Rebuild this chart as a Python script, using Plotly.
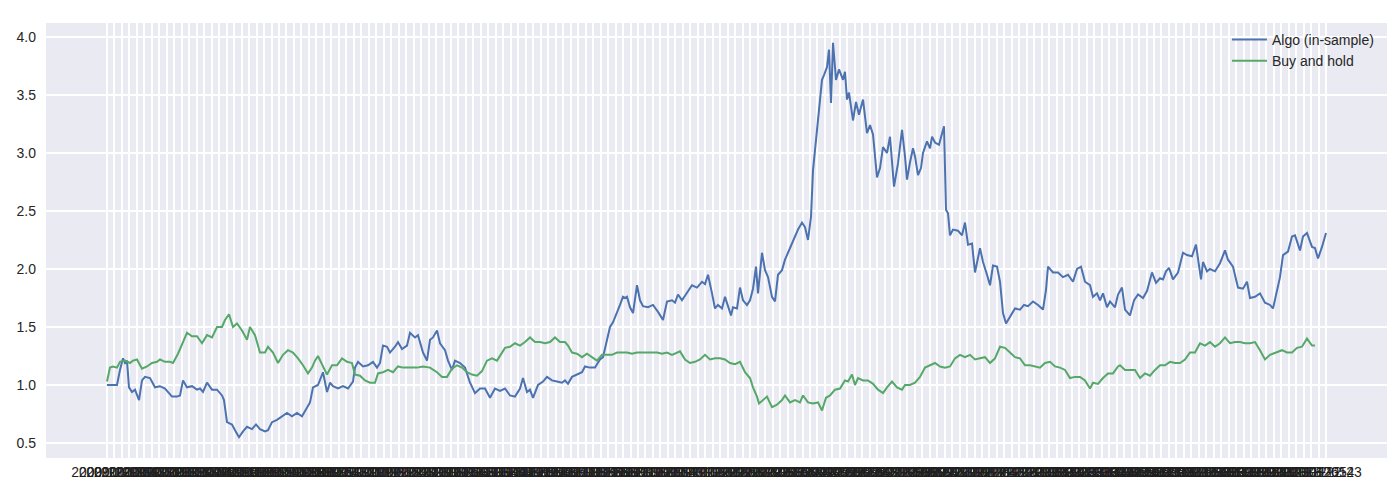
import numpy as np
import pandas as pd
import plotly.graph_objects as go

# ---- data (trading-day index, cumulative value) ----
algo_day = [0, 10, 13, 16, 18, 20, 22, 25, 28, 32, 35, 38, 43, 48, 53, 58, 65, 70, 73, 76, 80, 85, 90, 93, 96, 100, 105, 110, 115, 117,
            120, 125, 128, 132, 136, 140, 145, 149, 153, 158, 161, 165, 170, 175, 180, 185, 190, 195, 200, 203, 206, 211, 216, 220, 223,
            226, 231, 236, 241, 246, 248, 251, 256, 261, 266, 270, 273, 276, 280, 283, 288, 291, 295, 300, 303, 308, 311, 316, 320, 323,
            326, 330, 333, 338, 341, 345, 348, 353, 358, 363, 368, 373, 378, 383, 388, 393, 398, 403, 408, 413, 416, 420, 423, 426, 431,
            436, 440, 445, 450, 455, 458, 461, 465, 470, 475, 478, 483, 488, 493, 496, 500, 503, 506, 510, 513, 516, 518, 520, 523, 526,
            530, 533, 536, 541, 546, 551, 556, 560, 565, 568, 571, 575, 580, 585, 590, 595, 598, 601, 605, 608, 611, 615, 618, 621, 624,
            626, 630, 633, 636, 640, 643, 646, 649, 651, 655, 658, 661, 665, 668, 671, 675, 678, 681, 685, 688, 691, 695, 698, 701, 704,
            706, 710, 712, 715, 717, 720, 722, 724, 726, 729, 732, 736, 738, 740, 742, 746, 749, 752, 756, 760, 763, 766, 770, 773, 776,
            780, 783, 787, 791, 795, 798, 800, 803, 806, 808, 811, 814, 816, 820, 823, 825, 828, 832, 835, 837, 839, 841, 843, 846, 851,
            855, 858, 861, 865, 868, 873, 876, 880, 883, 886, 890, 893, 896, 899, 903, 908, 913, 917, 921, 926, 931, 936, 939, 941, 946,
            951, 956, 961, 966, 970, 974, 978, 983, 986, 990, 993, 996, 1000, 1003, 1008, 1011, 1015, 1018, 1023, 1027, 1031, 1036, 1040,
            1045, 1049, 1053, 1056, 1059, 1062, 1066, 1071, 1076, 1080, 1085, 1089, 1091, 1094, 1096, 1100, 1103, 1108, 1113, 1118, 1121,
            1126, 1131, 1136, 1140, 1143, 1148, 1153, 1158, 1163, 1166, 1170, 1173, 1176, 1181, 1185, 1188, 1193, 1196, 1200, 1205, 1208,
            1211, 1215, 1219]
algo_val = [1.00, 1.00, 1.13, 1.23, 1.19, 1.21, 0.98, 0.94, 0.96, 0.87, 1.04, 1.07, 1.06, 0.98, 0.99, 0.97, 0.90, 0.90, 0.91, 1.04,
            0.98, 0.99, 0.96, 0.97, 0.94, 1.02, 0.96, 0.96, 0.91, 0.87, 0.68, 0.66, 0.61, 0.55, 0.60, 0.64, 0.62, 0.66, 0.62, 0.60,
            0.61, 0.68, 0.70, 0.73, 0.76, 0.73, 0.76, 0.73, 0.80, 0.85, 0.98, 1.00, 1.11, 0.94, 1.02, 0.99, 0.97, 0.99, 0.97, 1.03,
            1.15, 1.20, 1.16, 1.17, 1.20, 1.15, 1.19, 1.34, 1.33, 1.28, 1.33, 1.37, 1.31, 1.34, 1.45, 1.41, 1.43, 1.28, 1.21, 1.39,
            1.41, 1.47, 1.36, 1.30, 1.21, 1.13, 1.21, 1.19, 1.15, 1.02, 0.93, 0.97, 0.97, 0.89, 0.97, 0.95, 0.97, 0.91, 0.90, 0.97,
            1.06, 0.94, 0.96, 0.89, 1.00, 1.03, 1.07, 1.04, 1.03, 1.02, 1.04, 1.01, 1.07, 1.09, 1.11, 1.16, 1.15, 1.15, 1.22, 1.24,
            1.39, 1.50, 1.54, 1.62, 1.69, 1.76, 1.75, 1.76, 1.67, 1.62, 1.86, 1.73, 1.68, 1.67, 1.69, 1.63, 1.56, 1.72, 1.73, 1.71,
            1.78, 1.73, 1.79, 1.86, 1.84, 1.89, 1.87, 1.95, 1.79, 1.66, 1.69, 1.66, 1.76, 1.67, 1.60, 1.67, 1.66, 1.84, 1.73, 1.69,
            1.73, 1.83, 2.02, 1.79, 2.14, 1.99, 1.93, 1.76, 1.72, 1.95, 1.99, 2.08, 2.14, 2.21, 2.27, 2.34, 2.40, 2.36, 2.25, 2.45,
            2.85, 3.20, 3.31, 3.63, 3.67, 3.74, 3.89, 3.43, 3.95, 3.63, 3.72, 3.63, 3.70, 3.46, 3.52, 3.28, 3.44, 3.33, 3.46, 3.17,
            3.24, 3.16, 2.79, 2.87, 3.05, 3.00, 3.14, 2.71, 2.91, 3.20, 2.97, 2.77, 2.92, 3.04, 2.97, 2.81, 2.87, 3.00, 3.10, 3.04,
            3.14, 3.09, 3.07, 3.18, 3.23, 2.51, 2.48, 2.29, 2.34, 2.33, 2.29, 2.40, 2.21, 2.22, 1.97, 2.18, 2.06, 1.95, 1.86, 2.03,
            2.02, 1.89, 1.62, 1.53, 1.59, 1.66, 1.65, 1.69, 1.68, 1.72, 1.69, 1.65, 1.82, 2.02, 1.97, 1.97, 1.93, 1.95, 1.89, 2.00,
            2.02, 1.89, 1.86, 1.76, 1.79, 1.73, 1.79, 1.67, 1.72, 1.67, 1.78, 1.84, 1.65, 1.60, 1.73, 1.78, 1.75, 1.81, 1.97, 1.88,
            1.92, 1.91, 1.98, 2.01, 1.91, 1.97, 2.14, 2.12, 2.11, 2.21, 2.09, 1.91, 2.06, 1.98, 2.00, 1.98, 2.05, 2.16, 2.08, 2.02,
            1.84, 1.83, 1.89, 1.75, 1.76, 1.79, 1.71, 1.69, 1.66, 1.82, 1.93, 2.12, 2.15, 2.28, 2.29, 2.16, 2.28, 2.31, 2.19, 2.18,
            2.09, 2.19, 2.31]

bh_day = [0, 3, 6, 10, 13, 18, 23, 26, 30, 35, 40, 45, 50, 53, 58, 63, 66, 71, 76, 80, 85, 90, 95, 100, 105, 110, 115, 118, 122,
          126, 130, 135, 140, 143, 148, 153, 158, 161, 166, 171, 176, 181, 186, 191, 196, 201, 205, 208, 211, 216, 220, 225, 230, 235,
          240, 245, 248, 253, 258, 263, 268, 271, 276, 281, 286, 291, 296, 303, 310, 316, 323, 330, 335, 340, 345, 350, 355, 360, 365,
          370, 375, 380, 385, 390, 395, 398, 403, 408, 413, 418, 423, 428, 433, 438, 443, 448, 453, 458, 461, 465, 470, 475, 480, 485,
          490, 495, 500, 505, 510, 515, 520, 525, 530, 535, 540, 545, 550, 555, 560, 565, 570, 573, 578, 583, 588, 593, 598, 603, 608,
          613, 618, 623, 628, 633, 638, 643, 646, 650, 652, 656, 660, 665, 670, 675, 678, 683, 688, 693, 696, 701, 706, 711, 715, 719,
          723, 728, 733, 738, 741, 745, 748, 751, 756, 761, 766, 771, 776, 780, 785, 790, 795, 798, 803, 808, 813, 818, 823, 828, 833,
          838, 843, 848, 853, 858, 863, 868, 873, 878, 883, 888, 893, 898, 903, 908, 913, 918, 923, 928, 933, 938, 943, 948, 953, 958,
          963, 968, 973, 978, 983, 986, 991, 996, 1001, 1006, 1011, 1013, 1018, 1023, 1028, 1033, 1038, 1043, 1048, 1053, 1058, 1063,
          1068, 1073, 1078, 1083, 1088, 1093, 1098, 1103, 1108, 1113, 1118, 1123, 1128, 1133, 1138, 1143, 1148, 1153, 1158, 1163, 1170,
          1175, 1180, 1185, 1190, 1195, 1200, 1205, 1208, 1213, 1218]
bh_val = [1.03, 1.15, 1.16, 1.15, 1.20, 1.21, 1.19, 1.21, 1.22, 1.14, 1.16, 1.19, 1.20, 1.22, 1.20, 1.20, 1.19, 1.27, 1.37, 1.45,
          1.42, 1.42, 1.36, 1.43, 1.41, 1.50, 1.50, 1.56, 1.61, 1.50, 1.53, 1.47, 1.39, 1.50, 1.43, 1.28, 1.28, 1.33, 1.28, 1.19,
          1.26, 1.30, 1.28, 1.23, 1.17, 1.10, 1.15, 1.21, 1.25, 1.16, 1.09, 1.17, 1.17, 1.23, 1.20, 1.19, 1.09, 1.08, 1.04, 1.02,
          1.02, 1.10, 1.11, 1.13, 1.11, 1.16, 1.15, 1.15, 1.15, 1.16, 1.15, 1.11, 1.07, 1.07, 1.14, 1.17, 1.15, 1.11, 1.09, 1.08,
          1.12, 1.21, 1.23, 1.21, 1.28, 1.32, 1.33, 1.36, 1.34, 1.37, 1.41, 1.37, 1.37, 1.36, 1.37, 1.41, 1.37, 1.37, 1.34, 1.28,
          1.27, 1.24, 1.27, 1.24, 1.21, 1.26, 1.26, 1.26, 1.28, 1.28, 1.28, 1.27, 1.28, 1.28, 1.28, 1.28, 1.28, 1.27, 1.28, 1.26,
          1.28, 1.29, 1.22, 1.19, 1.20, 1.22, 1.26, 1.22, 1.23, 1.23, 1.22, 1.19, 1.18, 1.20, 1.11, 1.06, 0.98, 0.90, 0.84, 0.87,
          0.90, 0.81, 0.83, 0.87, 0.91, 0.85, 0.87, 0.85, 0.91, 0.85, 0.84, 0.85, 0.78, 0.89, 0.91, 0.96, 0.97, 1.04, 1.03, 1.09,
          1.00, 1.06, 1.04, 1.04, 1.01, 0.96, 0.93, 0.98, 1.03, 0.98, 0.96, 1.00, 1.00, 1.02, 1.07, 1.15, 1.17, 1.19, 1.16, 1.15,
          1.16, 1.23, 1.26, 1.24, 1.26, 1.22, 1.23, 1.24, 1.19, 1.23, 1.33, 1.32, 1.28, 1.24, 1.23, 1.17, 1.17, 1.16, 1.15, 1.19,
          1.20, 1.16, 1.15, 1.13, 1.06, 1.07, 1.07, 1.04, 0.97, 1.02, 1.01, 1.06, 1.10, 1.10, 1.16, 1.17, 1.13, 1.13, 1.13, 1.06,
          1.10, 1.08, 1.13, 1.17, 1.17, 1.20, 1.19, 1.19, 1.22, 1.28, 1.28, 1.36, 1.34, 1.37, 1.33, 1.36, 1.41, 1.36, 1.37, 1.37,
          1.36, 1.36, 1.37, 1.30, 1.22, 1.26, 1.28, 1.30, 1.28, 1.28, 1.32, 1.33, 1.40, 1.34, 1.34]

# x tick labels (one per date tick; they overlap into a solid band as in the original)
n_ticks = 164
tick_labels = list(pd.date_range(end="2013-12-23", periods=n_ticks, freq="9D").strftime("%Y-%m-%d"))
tick_positions = list(np.linspace(0, 1219, n_ticks))

y_ticks = [0.5, 1.0, 1.5, 2.0, 2.5, 3.0, 3.5, 4.0]

fig = go.Figure()
fig.add_trace(go.Scatter(x=algo_day, y=algo_val, mode="lines", name="Algo (in-sample)",
                         line=dict(color="#4C72B0", width=2)))
fig.add_trace(go.Scatter(x=bh_day, y=bh_val, mode="lines", name="Buy and hold",
                         line=dict(color="#55A868", width=2)))

font_family = "Liberation Sans, Arial, sans-serif"
# the page body adds an 8px offset, so the figure is sized/margined to compensate
fig.update_layout(
    width=1384, height=474,
    margin=dict(l=38, r=5, t=15, b=24, autoexpand=False),
    paper_bgcolor="white",
    plot_bgcolor="#EAEAF2",
    font=dict(family=font_family, size=14, color="#262626"),
    showlegend=True,
    legend=dict(x=0.994, y=0.998, xanchor="right", yanchor="top",
                bgcolor="rgba(0,0,0,0)", borderwidth=0, tracegroupgap=0,
                itemwidth=35,
                font=dict(size=14, color="#262626")),
)
fig.update_xaxes(
    range=[-61, 1280], automargin=False,
    tickmode="array", tickvals=tick_positions, ticktext=tick_labels,
    tickangle=0, showgrid=True, gridcolor="white", gridwidth=2,
    zeroline=False, showline=False, ticks="", ticklabelstandoff=4,
    tickfont=dict(size=14, color="#1f1f1f"),
)
fig.update_yaxes(
    range=[0.371, 4.12], automargin=False,
    tickmode="array", tickvals=y_ticks, tickformat=".1f",
    showgrid=True, gridcolor="white", gridwidth=1.5,
    zeroline=False, showline=False, ticks="", ticklabelstandoff=9,
    tickfont=dict(size=14, color="#262626"),
)

fig.write_html("out.html")
